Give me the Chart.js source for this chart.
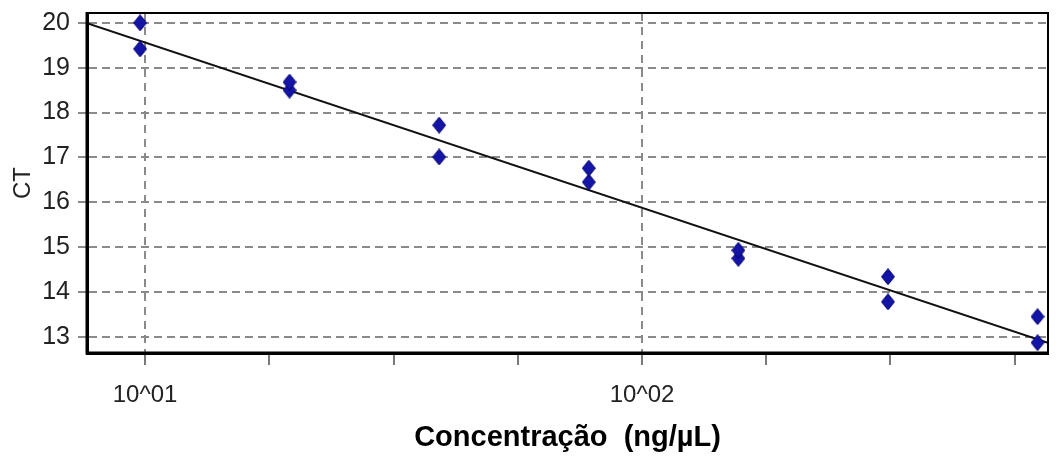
<!DOCTYPE html>
<html>
<head>
<meta charset="utf-8">
<script src="https://cdn.jsdelivr.net/npm/chart.js@4/dist/chart.umd.min.js"></script>
<style>
  html, body { margin: 0; padding: 0; background: #fff; }
  #chart { display: block; }
</style>
</head>
<body>
<canvas id="chart" width="1064" height="459"></canvas>
<script>
// dilution series (ng/uL) and the two CT replicates
const concentrations = [9.77, 19.53, 39.06, 78.13, 156.25, 312.5, 625];
const ctRep1 = [20.0, 18.68, 17.72, 16.76, 14.93, 14.34, 13.45];
const ctRep2 = [19.42, 18.5, 17.01, 16.45, 14.75, 13.78, 12.87];

// standard curve end points
const fitX = [7.64, 656];
const fitY = [19.99, 12.87];

// axis ticks
const xTickValues = [10, 17.78, 31.62, 56.23, 100, 177.8, 316.2, 562.3];
const xTickLabels = ["10^01", "", "", "", "10^02", "", "", ""];
const xMajor = [10, 100];

Chart.defaults.font.family = "'Liberation Sans', Arial, sans-serif";
Chart.defaults.color = "#222";

// elongated diamond marker
const diamond = document.createElement("canvas");
diamond.width = 14;
diamond.height = 17;
(function () {
  const c = diamond.getContext("2d");
  c.beginPath();
  c.moveTo(7, 0.5);
  c.lineTo(13.5, 8.5);
  c.lineTo(7, 16.5);
  c.lineTo(0.5, 8.5);
  c.closePath();
  c.fillStyle = "#1414a6";
  c.fill();
  c.strokeStyle = "#00006a";
  c.lineWidth = 1;
  c.stroke();
})();

const toPoints = (xs, ys) => xs.map((x, i) => ({ x: x, y: ys[i] }));

const frame = {
  id: "frame",
  afterDraw(chart) {
    const { ctx, chartArea: a } = chart;
    ctx.save();
    ctx.strokeStyle = "#000";
    ctx.lineWidth = 2;
    ctx.strokeRect(a.left, a.top, a.right - a.left, a.bottom - a.top);
    ctx.lineWidth = 3;
    ctx.beginPath();
    ctx.moveTo(a.left, a.top - 1);
    ctx.lineTo(a.left, a.bottom);
    ctx.lineTo(a.right + 1, a.bottom);
    ctx.stroke();
    ctx.restore();
  }
};

const ctx = document.getElementById("chart").getContext("2d");
new Chart(ctx, {
  data: {
    datasets: [
      {
        type: "scatter",
        label: "CT rep 1",
        data: toPoints(concentrations, ctRep1),
        pointStyle: diamond,
        pointRadius: 7,
        clip: false
      },
      {
        type: "scatter",
        label: "CT rep 2",
        data: toPoints(concentrations, ctRep2),
        pointStyle: diamond,
        pointRadius: 7,
        clip: false
      },
      {
        type: "line",
        label: "fit",
        data: toPoints(fitX, fitY),
        borderColor: "#111",
        borderWidth: 2,
        pointRadius: 0,
        fill: false
      }
    ]
  },
  options: {
    responsive: false,
    animation: false,
    layout: { padding: { left: 0, top: 13, right: 16, bottom: 0 } },
    plugins: {
      legend: { display: false },
      tooltip: { enabled: false }
    },
    scales: {
      x: {
        type: "logarithmic",
        position: "bottom",
        min: fitX[0],
        max: fitX[1],
        afterBuildTicks: (scale) => {
          scale.ticks = xTickValues.map((v) => ({ value: v }));
        },
        afterFit: (scale) => {
          scale.height = 106;
          scale.paddingLeft = 0;
          scale.paddingRight = 0;
        },
        ticks: {
          autoSkip: false,
          maxRotation: 0,
          padding: 16,
          font: { size: 24 },
          color: "#222",
          callback: (value, index) => xTickLabels[index]
        },
        grid: {
          color: (c) => (c.tick && xMajor.includes(c.tick.value) ? "#8a8a8a" : "rgba(0,0,0,0)"),
          lineWidth: 2,
          tickLength: 12,
          tickWidth: 2,
          tickColor: "#7a7a7a"
        },
        border: { display: true, color: "#000", width: 3, dash: [8, 6] },
        title: {
          display: true,
          text: "Concentração  (ng/µL)",
          font: { size: 29, weight: "bold" },
          color: "#000",
          padding: { top: 0, bottom: 4 }
        }
      },
      y: {
        type: "linear",
        min: 12.64,
        max: 20.22,
        afterFit: (scale) => {
          scale.width = 87;
          scale.paddingTop = 0;
          scale.paddingBottom = 0;
        },
        ticks: {
          stepSize: 1,
          includeBounds: false,
          padding: 8,
          font: { size: 25 },
          color: "#222"
        },
        grid: {
          color: "#8a8a8a",
          lineWidth: 2,
          tickLength: 9,
          tickWidth: 2,
          tickColor: "#8a8a8a"
        },
        border: { display: true, color: "#000", width: 3, dash: [8, 5] },
        title: {
          display: true,
          text: "CT",
          font: { size: 24 },
          color: "#222",
          padding: { top: 9, bottom: 0 }
        }
      }
    }
  },
  plugins: [frame]
});
</script>
</body>
</html>
